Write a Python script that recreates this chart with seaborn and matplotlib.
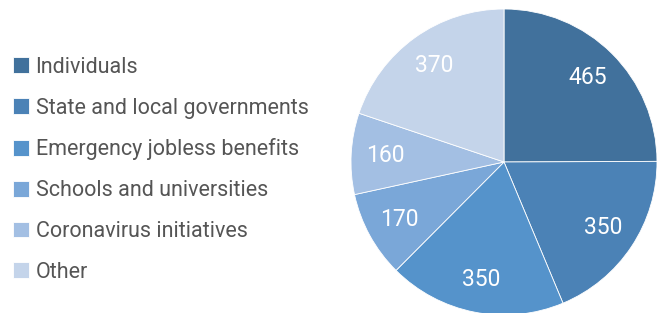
import matplotlib
matplotlib.use("Agg")
import matplotlib.pyplot as plt
import seaborn as sns

# Data
categories = ["Individuals", "State and local governments", "Emergency jobless benefits",
              "Schools and universities", "Coronavirus initiatives", "Other"]
values = [465, 350, 350, 170, 160, 370]
colors = ["#41719c", "#4b82b6", "#5593cb", "#7aa7d8", "#a3bfe3", "#c4d4ea"]

sns.set_theme(style="white")
plt.rcParams["font.family"] = ["Roboto", "DejaVu Sans"]

fig = plt.figure(figsize=(6.65, 3.13), dpi=100)
ax = fig.add_axes([351 / 665, -2 / 313, 306 / 665, 306 / 313])

wedges, texts = ax.pie(
    values,
    colors=colors,
    labels=[str(v) for v in values],
    labeldistance=0.78,
    startangle=90,
    counterclock=False,
    wedgeprops={"edgecolor": "white", "linewidth": 0.6},
    textprops={"color": "white", "fontsize": 16.5},
)
for t in texts:
    t.set_horizontalalignment("center")
    t.set_verticalalignment("center")
ax.set_xlim(-1, 1)
ax.set_ylim(-1, 1)
ax.set_aspect("equal")

leg = fig.legend(
    wedges, categories,
    loc="upper left", bbox_to_anchor=(0.0, 0.86),
    frameon=False, fontsize=15.5,
    handlelength=0.75, handleheight=0.75, handletextpad=0.3,
    labelspacing=0.92, borderaxespad=0.2,
)
for t in leg.get_texts():
    t.set_color("#555555")

fig.savefig("out.png", dpi=100)
